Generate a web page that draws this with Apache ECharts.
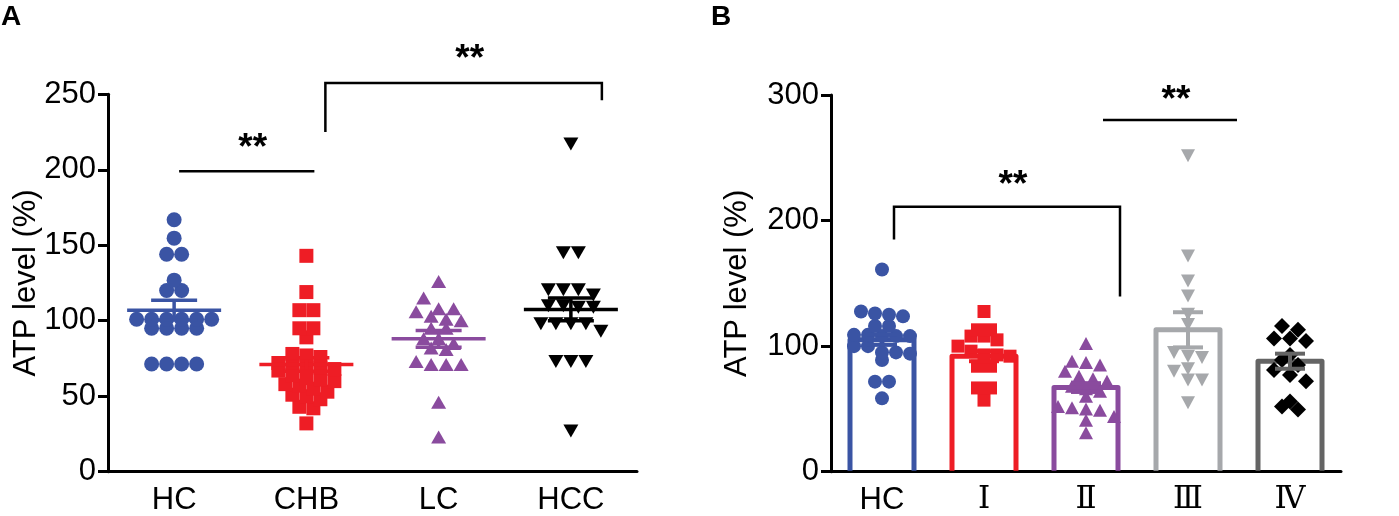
<!DOCTYPE html>
<html>
<head>
<meta charset="utf-8">
<script src="https://cdn.jsdelivr.net/npm/echarts@6/dist/echarts.min.js"></script>
<style>
  html, body { margin: 0; padding: 0; background: #fff; }
  #chart { width: 1399px; height: 516px; }
</style>
</head>
<body>
<div id="chart"></div>
<script>
// ---- panel A: dot plot ----
const groupsA = ['HC', 'CHB', 'LC', 'HCC'];
const hcA = [166.9, 154.7, 144, 144, 126.9, 120, 120, 101, 101, 101, 101, 101, 101, 95, 95, 95, 95, 71.3, 71.3, 71.3, 71.3];
const chbA = [143, 119, 107, 107, 95, 95, 89, 78, 77, 76, 72, 71, 70, 69, 68, 67, 64, 62, 61, 60, 58, 57, 55, 53, 51, 50, 48, 43, 42, 32];
const lcA = [126, 115, 108, 108, 106, 103, 101, 100, 95, 95, 88, 88, 85, 82, 81, 73, 71, 71, 71, 46, 23];
const hccA = [217, 145, 145, 120.5, 120.5, 120.5, 117, 110, 110, 109, 109, 98, 98, 98, 98, 93, 73, 73, 73, 27];
const meanA = [107, 71, 88, 107.5];
const semA = [6.5, 4.5, 5.5, 7.5];
const yMaxA = 250, yStepA = 50;
// brackets: [from, to, top, left end, right end, stars]
const sigA = [[0, 1, 199, 199, 199, 214], [1, 3, 257.5, 225, 246, 273]];

// ---- panel B: bars + dots ----
const groupsB = ['HC', 'Ⅰ', 'Ⅱ', 'Ⅲ', 'Ⅳ'];
const hcB = [161, 127.6, 126, 125, 123.7, 116, 116, 109, 109, 108, 108, 108, 100, 100, 95, 95, 94, 89, 71.7, 71.7, 58.4];
const s1B = [127.6, 113, 113, 108, 108, 105, 100, 96, 93, 93, 92, 84, 84, 66.7, 66.7, 57];
const s2B = [102, 88, 87, 85, 80, 76, 74, 72, 68, 66, 64, 60, 52, 51, 50, 49, 44, 41, 31];
const s3B = [251.6, 171.8, 151.9, 139.9, 125.3, 117.3, 95, 92, 91, 82, 80, 73, 73, 55];
const s4B = [116, 113, 106, 106, 104, 93, 89, 85, 81, 77, 72, 56, 52, 49.5];
const barB = [105, 92, 67, 113, 88];
const semB = [4, 4, 3.5, 14, 6];
const yMaxB = 300, yStepB = 100;
const sigB = [[0, 2, 211, 185, 139.5, 228], [2, 3, 280, 280, 280, 295]];

// ---- look ----
const FONT = 'Liberation Sans, Arial, sans-serif';
const colA = ['#3a54a4', '#ee1d25', '#8a4b9e', '#000000'];
const colB = ['#3a54a4', '#ee1d25', '#8a4b9e', '#a6a8ab', '#646464'];
const gridA = { left: 108, top: 94.3, width: 529, height: 377.4 };
const gridB = { left: 831, top: 95, width: 510, height: 376.7 };
const shiftA = [[5, 8], [19, 31]];
const shiftB = [[12, 34], [17, 49]];

// spread points of one group sideways in rows (GraphPad-like)
function swarm(vals, cat, pxPerUnit, symPx, maxW) {
  const binU = 12 / pxPerUnit;
  const bins = {};
  vals.forEach(v => {
    const k = Math.round(v / binU);
    (bins[k] = bins[k] || []).push(v);
  });
  const out = [];
  Object.keys(bins).forEach(k => {
    const row = bins[k];
    const n = row.length;
    const sp = n > 1 ? Math.min(symPx, (maxW - symPx) / (n - 1)) : 0;
    row.forEach((v, i) => {
      out.push({ value: [cat, v], symbolOffset: [(i - (n - 1) / 2) * sp, 0] });
    });
  });
  return out;
}

const pxA = gridA.height / yMaxA;
const pxB = gridB.height / yMaxB;

function dots(data, grid, symbol, size, color, rotate) {
  return {
    type: 'scatter',
    xAxisIndex: grid, yAxisIndex: grid,
    symbol, symbolSize: size, symbolRotate: rotate || 0,
    itemStyle: { color, opacity: 1 },
    data, z: 3, silent: true
  };
}

// mean line (A only) + SEM whiskers
function errRender(colors, meanHalf, capHalf, lw) {
  return function (params, api) {
    const c = api.value(0), m = api.value(1), s = api.value(2);
    const pm = api.coord([c, m]);
    const pt = api.coord([c, m + s]);
    const pb = api.coord([c, m - s]);
    const x = pm[0];
    const st = { stroke: colors[c], lineWidth: lw };
    const kids = [];
    if (meanHalf) {
      kids.push({ type: 'line', shape: { x1: x - meanHalf, y1: pm[1], x2: x + meanHalf, y2: pm[1] }, style: st });
    }
    kids.push({ type: 'line', shape: { x1: x, y1: pt[1], x2: x, y2: pb[1] }, style: st });
    kids.push({ type: 'line', shape: { x1: x - capHalf, y1: pt[1], x2: x + capHalf, y2: pt[1] }, style: st });
    kids.push({ type: 'line', shape: { x1: x - capHalf, y1: pb[1], x2: x + capHalf, y2: pb[1] }, style: st });
    return { type: 'group', children: kids };
  };
}

function barRender(params, api) {
  const c = api.value(0), m = api.value(1);
  const pt = api.coord([c, m]);
  const p0 = api.coord([c, 0]);
  const half = 32;
  return {
    type: 'polyline',
    shape: { points: [[pt[0] - half, p0[1] - 1], [pt[0] - half, pt[1]], [pt[0] + half, pt[1]], [pt[0] + half, p0[1] - 1]] },
    style: { stroke: colB[c], lineWidth: 5, fill: null, lineJoin: 'round' }
  };
}

function sigRender(shifts) {
  return function (params, api) {
    const i = params.dataIndex;
    const a = api.value(0), b = api.value(1);
    const top = api.coord([a, api.value(2)])[1];
    const yl = api.coord([a, api.value(3)])[1];
    const yr = api.coord([b, api.value(4)])[1];
    const ys = api.coord([a, api.value(5)])[1];
    const x1 = api.coord([a, 0])[0] + shifts[i][0];
    const x2 = api.coord([b, 0])[0] + shifts[i][1];
    return {
      type: 'group',
      children: [
        { type: 'polyline', shape: { points: [[x1, yl], [x1, top], [x2, top], [x2, yr]] },
          style: { stroke: '#000', lineWidth: 2.5, fill: null } },
        { type: 'text', x: (x1 + x2) / 2 + 6, y: ys,
          style: { text: '**', fill: '#000', font: 'bold 37px ' + FONT, align: 'center', verticalAlign: 'middle' } }
      ]
    };
  };
}

function xAxis(grid, data) {
  return {
    type: 'category', gridIndex: grid, data,
    axisLine: { lineStyle: { color: '#000', width: 3 } },
    axisTick: { alignWithLabel: true, length: 10, lineStyle: { color: '#000', width: 3 } },
    axisLabel: {
      color: '#000', fontSize: 31, fontFamily: FONT, margin: 13,
      formatter: v => (/^[A-Z]+$/.test(v) ? v : '{r|' + v + '}'),
      rich: { r: { fontFamily: 'DejaVu Serif', fontSize: 31, color: '#000' } }
    }
  };
}

function yAxis(grid, max, step, gap) {
  return {
    type: 'value', gridIndex: grid, min: 0, max, interval: step,
    name: 'ATP level (%)', nameLocation: 'middle', nameGap: gap, nameMoveOverlap: false,
    nameTextStyle: { color: '#000', fontSize: 31, fontFamily: FONT },
    axisLine: { show: true, lineStyle: { color: '#000', width: 3 } },
    axisTick: { show: true, length: 10, lineStyle: { color: '#000', width: 3 } },
    splitLine: { show: false },
    axisLabel: { color: '#000', fontSize: 31, fontFamily: FONT, margin: 12 }
  };
}

const chart = echarts.init(document.getElementById('chart'));
chart.setOption({
  animation: false,
  backgroundColor: '#fff',
  grid: [
    Object.assign({ containLabel: false, outerBoundsMode: 'none' }, gridA),
    Object.assign({ containLabel: false, outerBoundsMode: 'none' }, gridB)
  ],
  xAxis: [xAxis(0, groupsA), xAxis(1, groupsB)],
  yAxis: [yAxis(0, yMaxA, yStepA, 66), yAxis(1, yMaxB, yStepB, 78)],
  graphic: [
    { type: 'text', left: 1, top: 3, style: { text: 'A', font: 'bold 28px ' + FONT, fill: '#000' } },
    { type: 'text', left: 711, top: 3, style: { text: 'B', font: 'bold 28px ' + FONT, fill: '#000' } }
  ],
  series: [
    // panel B bars first (underneath)
    { type: 'custom', xAxisIndex: 1, yAxisIndex: 1, renderItem: barRender, encode: { x: 0, y: 1 },
      data: barB.map((m, i) => [i, m]), z: 2, silent: true },
    dots(swarm(hcA, 0, pxA, 15, 95), 0, 'circle', 15, colA[0]),
    dots(swarm(chbA, 1, pxA, 14, 95), 0, 'rect', 14, colA[1]),
    dots(swarm(lcA, 2, pxA, 15, 95), 0, 'triangle', [15, 13], colA[2]),
    dots(swarm(hccA, 3, pxA, 15, 95), 0, 'triangle', [15, 13], colA[3], 180),
    dots(swarm(hcB, 0, pxB, 14, 70), 1, 'circle', 14, colB[0]),
    dots(swarm(s1B, 1, pxB, 13, 70), 1, 'rect', 13, colB[1]),
    dots(swarm(s2B, 2, pxB, 14, 70), 1, 'triangle', [14, 13], colB[2]),
    dots(swarm(s3B, 3, pxB, 14, 70), 1, 'triangle', [14, 13], colB[3], 180),
    dots(swarm(s4B, 4, pxB, 16, 70), 1, 'diamond', 16, '#000'),
    { type: 'custom', xAxisIndex: 0, yAxisIndex: 0, renderItem: errRender(colA, 47, 23, 3.5), encode: { x: 0, y: 1 },
      data: meanA.map((m, i) => [i, m, semA[i]]), z: 4, silent: true },
    { type: 'custom', xAxisIndex: 1, yAxisIndex: 1, renderItem: errRender(colB, 0, 15, 4), encode: { x: 0, y: 1 },
      data: barB.map((m, i) => [i, m, semB[i]]), z: 4, silent: true },
    { type: 'custom', xAxisIndex: 0, yAxisIndex: 0, renderItem: sigRender(shiftA), encode: { x: 0, y: 2 },
      data: sigA, z: 5, clip: false, silent: true },
    { type: 'custom', xAxisIndex: 1, yAxisIndex: 1, renderItem: sigRender(shiftB), encode: { x: 0, y: 2 },
      data: sigB, z: 5, clip: false, silent: true }
  ]
});
</script>
</body>
</html>
